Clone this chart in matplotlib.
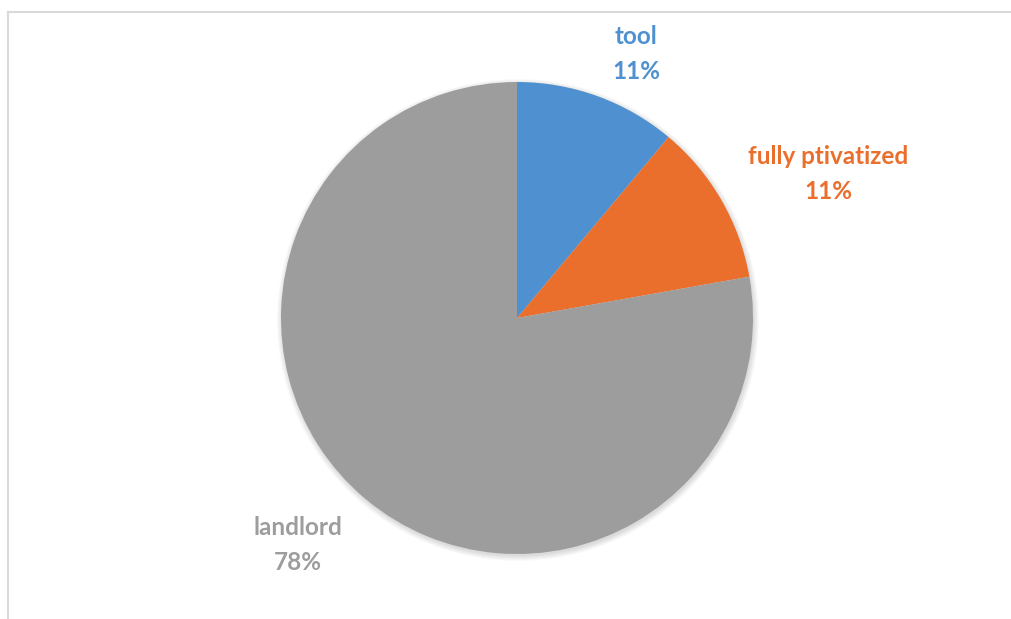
import matplotlib
matplotlib.use("Agg")
import matplotlib.pyplot as plt
from matplotlib.patches import Circle
from matplotlib.lines import Line2D

categories = ["tool", "fully ptivatized", "landlord"]
values = [11.1, 11.1, 77.8]
pct_labels = ["11%", "11%", "78%"]
colors = ["#4f91d0", "#eb6f2c", "#9d9d9d"]

W, H = 1012, 619
fig = plt.figure(figsize=(W / 100, H / 100), dpi=100)
ax = fig.add_axes([0, 0, 1, 1])

cx, cy, r = 517, H - 318, 236

# soft shadow
for i in range(6):
    ax.add_patch(Circle((cx + 1, cy - 2), r + 5 - i, color="black", alpha=0.025, lw=0, zorder=0))

ax.pie(values, colors=colors, startangle=90, counterclock=False,
       center=(cx, cy), radius=r, frame=True,
       wedgeprops=dict(linewidth=0))
ax.set_xlim(0, W)
ax.set_ylim(0, H)
ax.set_aspect("equal")
ax.axis("off")

label_pos = [(636, 54), (828, 174), (298, 545)]
for cat, p, col, (x, y) in zip(categories, pct_labels, colors, label_pos):
    ax.text(x, H - y, f"{cat}\n{p}", color=col, ha="center", va="center",
            fontsize=17.5, fontweight="bold", family="Lato", linespacing=1.6)

# chart border
ax.add_line(Line2D([8, W], [H - 12, H - 12], color="#d9d9d9", lw=1.5))
ax.add_line(Line2D([8, 8], [0, H - 12], color="#d9d9d9", lw=1.5))

fig.savefig("out.png", dpi=100)
